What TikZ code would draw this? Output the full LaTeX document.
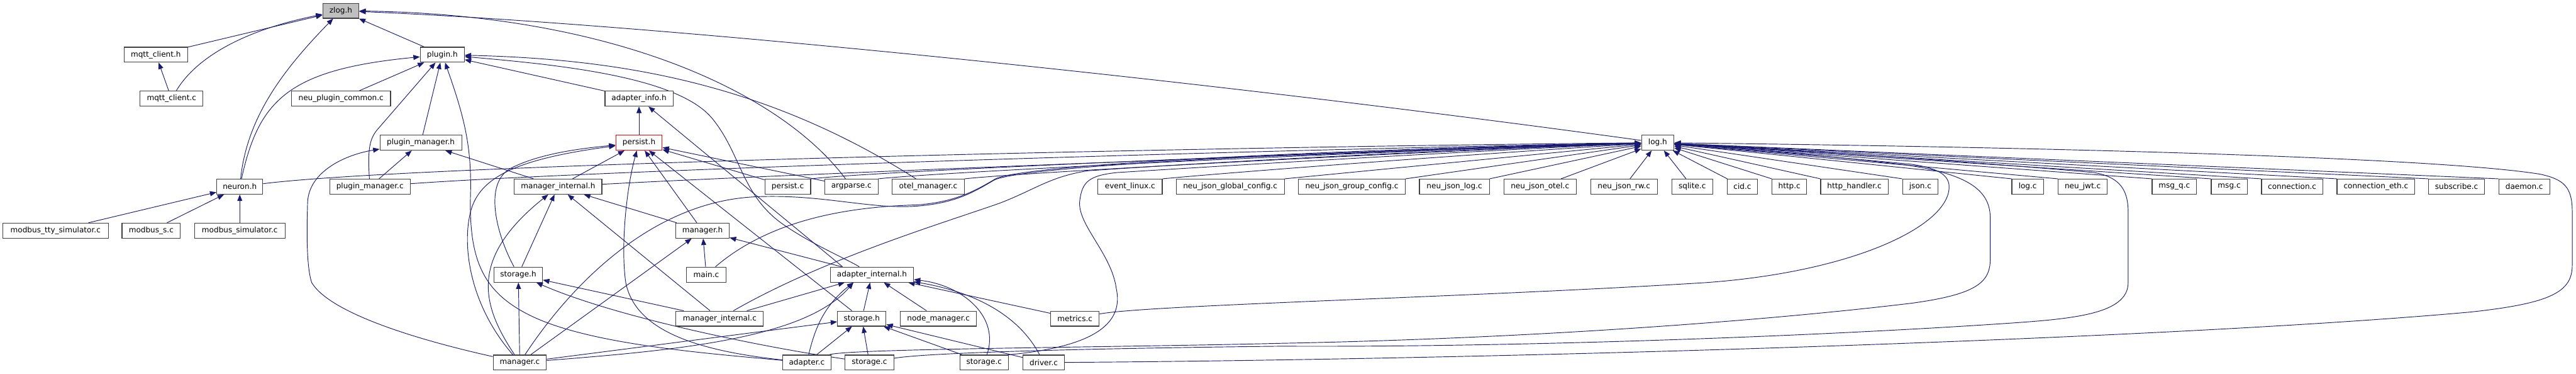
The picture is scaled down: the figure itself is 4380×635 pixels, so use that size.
\documentclass[tikz,border=0pt]{standalone}
\usepackage{fontspec}
\setmainfont{DejaVu Sans}
\usetikzlibrary{arrows.meta}
\definecolor{edgec}{HTML}{191970}
\definecolor{boxc}{HTML}{404040}
\definecolor{rootfill}{HTML}{BFBFBF}
\pgfdeclarelayer{bg}
\pgfsetlayers{bg,main}
\tikzset{
  box/.style={draw=boxc, line width=1.2pt, fill=white, rectangle, minimum height=25.5pt,
    inner sep=0pt, font=\fontsize{12.9}{15}\selectfont, text=black},
  rootbox/.style={box, fill=rootfill},
  redbox/.style={box, draw=red},
  edge/.style={draw=edgec, line width=1pt, -{Triangle[length=11pt,width=8.5pt]}},
}
\begin{document}
\begin{tikzpicture}[x=1pt,y=-1pt]
\useasboundingbox (0,0) rectangle (4380,635);
% row 0
\node[rootbox, minimum width=61.4pt] (zlog) at (579.5,18.2) {zlog.h};
% row 1
\node[box, minimum width=108pt] (mqtth) at (265,92.9) {mqtt\_client.h};
\node[box, minimum width=75pt] (pluginh) at (752,92.9) {plugin.h};
% row 2
\node[box, minimum width=106.7pt] (mqttc) at (291.7,167.6) {mqtt\_client.c};
\node[box, minimum width=168.5pt] (npc) at (579.8,167.6) {neu\_plugin\_common.c};
\node[box, minimum width=115.7pt] (adinfo) at (1086.5,167.6) {adapter\_info.h};
% row 3
\node[box, minimum width=139pt] (pmh) at (715.5,242.3) {plugin\_manager.h};
\node[redbox, minimum width=78.8pt] (persisth) at (1086.5,242.3) {persist.h};
\node[box, minimum width=55.2pt] (logh) at (2818.6,242.3) {log.h};
% row 4
\node[box, minimum width=78.3pt] (neuronh) at (407.7,317) {neuron.h};
\node[box, minimum width=137pt] (pmc) at (629,317) {plugin\_manager.c};
\node[box, minimum width=149pt] (mih) at (948.9,317) {manager\_internal.h};
\node[box, minimum width=77.9pt] (persistc) at (1339.4,317) {persist.c};
\node[box, minimum width=90.5pt] (argparse) at (1447.6,317) {argparse.c};
\node[box, minimum width=122.7pt] (otel) at (1578.3,317) {otel\_manager.c};
\node[box, minimum width=109.5pt] (event) at (1921.4,317) {event\_linux.c};
\node[box, minimum width=184pt] (njgc) at (2091.7,317) {neu\_json\_global\_config.c};
\node[box, minimum width=181.7pt] (njgrc) at (2298.5,317) {neu\_json\_group\_config.c};
\node[box, minimum width=118.9pt] (njlog) at (2472.9,317) {neu\_json\_log.c};
\node[box, minimum width=123pt] (njotel) at (2618.5,317) {neu\_json\_otel.c};
\node[box, minimum width=113.3pt] (njrw) at (2761.2,317) {neu\_json\_rw.c};
\node[box, minimum width=69.7pt] (sqlite) at (2877.3,317) {sqlite.c};
\node[box, minimum width=52pt] (cid) at (2962.5,317) {cid.c};
\node[box, minimum width=59pt] (http) at (3042.5,317) {http.c};
\node[box, minimum width=114.7pt] (httph) at (3153,317) {http\_handler.c};
\node[box, minimum width=60.4pt] (json) at (3265.1,317) {json.c};
\node[box, minimum width=53.8pt] (logc) at (3447.7,317) {log.c};
\node[box, minimum width=84pt] (jwt) at (3541.2,317) {neu\_jwt.c};
\node[box, minimum width=75.6pt] (msgq) at (3697,317) {msg\_q.c};
\node[box, minimum width=61.2pt] (msg) at (3790.3,317) {msg.c};
\node[box, minimum width=104pt] (conn) at (3897.3,317) {connection.c};
\node[box, minimum width=132.3pt] (conneth) at (4039.8,317) {connection\_eth.c};
\node[box, minimum width=95pt] (sub) at (4176.9,317) {subscribe.c};
\node[box, minimum width=86.6pt] (daemon) at (4292,317) {daemon.c};
% row 5
\node[box, minimum width=179.3pt] (mtty) at (94.4,391.7) {modbus\_tty\_simulator.c};
\node[box, minimum width=99pt] (ms) at (257,391.7) {modbus\_s.c};
\node[box, minimum width=153.9pt] (msim) at (407.7,391.7) {modbus\_simulator.c};
\node[box, minimum width=91pt] (managerh) at (1194.5,391.7) {manager.h};
% row 6
\node[box, minimum width=82.6pt] (storagehA) at (881.2,466.4) {storage.h};
\node[box, minimum width=67pt] (mainc) at (1200.9,466.4) {main.c};
\node[box, minimum width=141.5pt] (aih) at (1482.5,466.4) {adapter\_internal.h};
% row 7
\node[box, minimum width=148.7pt] (mic) at (1223.7,541.1) {manager\_internal.c};
\node[box, minimum width=82.5pt] (storagehB) at (1465.3,541.1) {storage.h};
\node[box, minimum width=129.4pt] (nmc) at (1595.7,541.1) {node\_manager.c};
\node[box, minimum width=82.6pt] (metrics) at (1827.7,541.1) {metrics.c};
% row 8
\node[box, minimum width=90.6pt] (managerc) at (883.8,615.8) {manager.c};
\node[box, minimum width=82pt] (adapterc) at (1371.8,615.8) {adapter.c};
\node[box, minimum width=83pt] (storagecA) at (1478.3,615.8) {storage.c};
\node[box, minimum width=82.6pt] (storagecB) at (1673.3,615.8) {storage.c};
\node[box, minimum width=70.8pt] (driver) at (1774.6,615.8) {driver.c};

\begin{pgfonlayer}{bg}
\fill[white] (0,0) rectangle (4380,635);
% --- into zlog.h
\draw[edge] (mqtth) -- (zlog);
\draw[edge] (mqttc) .. controls (335,95) and (420,50) .. (zlog);
\draw[edge] (neuronh) .. controls (420,200) and (480,120) .. (zlog);
\draw[edge] (pluginh) -- (zlog);
\draw[edge] (logh) .. controls (2000,130) and (1100,40) .. (zlog);
\draw[edge] (argparse) .. controls (1330,160) and (1050,25) .. (zlog);
% --- into plugin.h
\draw[edge] (npc) -- (pluginh);
\draw[edge] (neuronh) .. controls (440,170) and (490,118) .. (pluginh);
\draw[edge] (pmc) .. controls (625,255) and (628,238) .. (640,222) -- (pluginh);
\draw[edge] (pmh) -- (pluginh);
\draw[edge] (adapterc) .. controls (1200,600) and (1000,585) .. (900,535)
  .. controls (820,495) and (797,440) .. (800,330)
  .. controls (802,250) and (790,200) .. (pluginh);
\draw[edge] (adinfo) -- (pluginh);
\draw[edge] (otel) .. controls (1300,140) and (1050,100) .. (pluginh);
\draw[edge] (aih) .. controls (1440,440) and (1380,415) .. (1330,380)
  .. controls (1260,330) and (1260,260) .. (1210,200)
  .. controls (1150,130) and (950,110) .. (pluginh);
% --- into adapter_info.h
\draw[edge] (persisth) -- (adinfo);
\draw[edge] (aih.165) -- (adinfo);
% --- into manager.h
\draw[edge] (aih) -- (managerh);
\draw[edge] (mainc) -- (managerh);
\draw[edge] (managerc) -- (managerh);
% --- into persist.h
\draw[edge] (mih) -- (persisth);
\draw[edge] (managerh) -- (persisth);
\draw[edge] (persistc) -- (persisth);
\draw[edge] (argparse) -- (persisth);
\draw[edge] (adapterc) .. controls (1180,595) and (1080,560) .. (1064,480)
  .. controls (1055,420) and (1065,320) .. (persisth);
\draw[edge] (storagehB) -- (persisth);
\draw[edge] (storagehA) .. controls (845,400) and (820,310) .. (870,285)
  .. controls (920,260) and (990,252) .. (persisth);
\draw[edge] (managerc) .. controls (800,520) and (785,420) .. (800,360)
  .. controls (815,300) and (880,270) .. (persisth);
% --- into plugin_manager.h
\draw[edge] (pmc) -- (pmh);
\draw[edge] (mih) -- (pmh);
\draw[edge] (managerc) .. controls (700,575) and (560,530) .. (530,480)
  .. controls (520,450) and (522,380) .. (523,344)
  .. controls (525,290) and (590,262) .. (pmh);
% --- into neuron.h / mqtt_client.h
\draw[edge] (mtty) -- (neuronh);
\draw[edge] (ms) -- (neuronh);
\draw[edge] (msim) -- (neuronh);
\draw[edge] (mqttc) -- (mqtth);
% --- into manager_internal.h
\draw[edge] (managerh) -- (mih);
\draw[edge] (storagehA) -- (mih);
\draw[edge] (managerc) .. controls (820,520) and (795,440) .. (mih);
\draw[edge] (mic) -- (mih);
% --- into storage.h (A)
\draw[edge] (managerc) -- (storagehA);
\draw[edge] (mic) -- (storagehA);
\draw[edge] (storagecA) .. controls (1300,590) and (1050,540) .. (storagehA);
% --- into adapter_internal.h
\draw[edge] (mic) -- (aih);
\draw[edge] (adapterc) .. controls (1385,560) and (1400,520) .. (aih.203);
\draw[edge] (managerc) .. controls (1150,595) and (1370,575) .. (aih.203);
\draw[edge] (storagehB) -- (aih);
\draw[edge] (nmc) -- (aih);
\draw[edge] (storagecB) .. controls (1700,540) and (1640,485) .. (aih);
\draw[edge] (driver) .. controls (1740,550) and (1680,500) .. (aih);
\draw[edge] (metrics) -- (aih);
% --- into storage.h (B)
\draw[edge] (managerc) -- (storagehB);
\draw[edge] (adapterc) -- (storagehB);
\draw[edge] (storagecA) -- (storagehB);
\draw[edge] (storagecB) -- (storagehB);
\draw[edge] (driver) -- (storagehB);
% --- into log.h from lower rows
\draw[edge] (adapterc) .. controls (1440,592) and (1900,590) .. (2180,583)
  .. controls (2600,575) and (3000,545) .. (3250,515)
  .. controls (3360,500) and (3384,480) .. (3384,440) -- (3384,370)
  .. controls (3384,320) and (3340,295) .. (3240,280)
  .. controls (3050,258) and (2900,248) .. (logh);
\draw[edge] (storagecA) .. controls (1580,598) and (1900,591) .. (2180,588)
  .. controls (2600,590) and (3100,570) .. (3400,550)
  .. controls (3520,542) and (3618.5,535) .. (3618.5,480) -- (3618.5,360)
  .. controls (3618.5,318) and (3600,300) .. (3560,293)
  .. controls (3300,270) and (3000,252) .. (logh);
\draw[edge] (storagecB.north east) .. controls (1870,588) and (1910,545) .. (1898,490)
  .. controls (1890,430) and (1830,380) .. (1836,340)
  .. controls (1840,310) and (1850,298) .. (1900,293)
  .. controls (2300,268) and (2600,252) .. (logh);
\draw[edge] (driver) .. controls (2600,610) and (3700,575) .. (4200,530)
  .. controls (4340,515) and (4373.6,495) .. (4373.6,450) -- (4373.6,360)
  .. controls (4373.6,318) and (4360,305) .. (4320,296)
  .. controls (4150,268) and (3500,250) .. (logh);
\draw[edge] (metrics) .. controls (1950,518) and (2500,505) .. (2900,480)
  .. controls (3150,462) and (3310,385) .. (3314,320)
  .. controls (3316,295) and (3290,285) .. (3250,279)
  .. controls (3050,260) and (2900,250) .. (logh);
\draw[edge] (managerc) .. controls (960,500) and (1100,340) .. (1290,334)
  .. controls (1400,330) and (1480,356) .. (1560,350)
  .. controls (1620,345) and (1650,330) .. (1690,306)
  .. controls (1740,280) and (2300,255) .. (logh);
\draw[edge] (mainc) .. controls (1290,390) and (1400,352) .. (1560,348)
  .. controls (1620,343) and (1652,328) .. (1692,304)
  .. controls (1742,278) and (2300,253) .. (logh);
\draw[edge] (mic) .. controls (1400,440) and (1600,380) .. (1700,345)
  .. controls (1760,322) and (1785,300) .. (1850,290)
  .. controls (2200,266) and (2600,250) .. (logh);
% --- into log.h from row 4
\draw[edge] (neuronh) .. controls (700,280) and (2000,250) .. (logh);
\draw[edge] (pmc) .. controls (1000,290) and (2100,255) .. (logh);
\draw[edge] (mih) .. controls (1300,298) and (2200,262) .. (logh);
\draw[edge] (persistc.north east) .. controls (1500,290) and (2300,256) .. (logh);
\draw[edge] (argparse.north east) .. controls (1600,292) and (2300,258) .. (logh);
\draw[edge] (otel.north east) .. controls (1750,292) and (2400,258) .. (logh);
\draw[edge] (event.north east) .. controls (2100,292) and (2500,262) .. (logh);
\draw[edge] (njgc.north east) -- (logh);
\draw[edge] (njgrc.north east) -- (logh);
\draw[edge] (njlog.north east) -- (logh);
\draw[edge] (njotel) -- (logh);
\draw[edge] (njrw) -- (logh);
\draw[edge] (sqlite) -- (logh);
\draw[edge] (cid) -- (logh);
\draw[edge] (http.north west) -- (logh);
\draw[edge] (httph.north west) -- (logh);
\draw[edge] (json.north west) -- (logh);
\draw[edge] (logc.north west) -- (logh);
\draw[edge] (jwt.north west) -- (logh);
\draw[edge] (msgq.north west) -- (logh);
\draw[edge] (msg.north west) -- (logh);
\draw[edge] (conn.north west) -- (logh);
\draw[edge] (conneth.north west) -- (logh);
\draw[edge] (sub.north west) -- (logh);
\draw[edge] (daemon.north west) -- (logh);
\end{pgfonlayer}
\end{tikzpicture}
\end{document}
